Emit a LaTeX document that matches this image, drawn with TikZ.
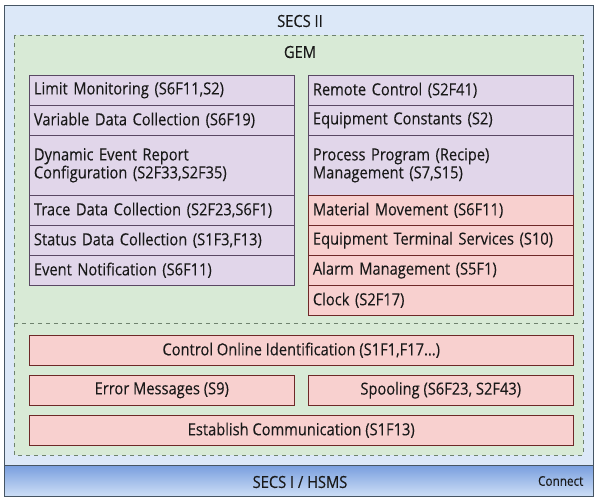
\documentclass[tikz,border=0pt]{standalone}
\usepackage{fontspec}
\setmainfont{Open Sans}[FakeStretch=0.88,FakeBold=0.15]
\usepackage{tikz}
\usetikzlibrary{positioning,calc}

\definecolor{secsfill}{RGB}{220,232,248}
\definecolor{secsline}{RGB}{70,85,100}
\definecolor{gemfill}{RGB}{216,234,214}
\definecolor{gemline}{RGB}{110,130,110}
\definecolor{lavfill}{RGB}{225,214,234}
\definecolor{lavline}{RGB}{90,72,100}
\definecolor{pinkfill}{RGB}{248,208,207}
\definecolor{pinkline}{RGB}{110,40,40}
\definecolor{bartop}{RGB}{120,158,222}
\definecolor{barbot}{RGB}{205,222,246}

\begin{document}
\begin{tikzpicture}[x=0.75pt,y=-0.75pt,
	every node/.style={font=\fontsize{12.5pt}{13.5pt}\selectfont, text=black!90},
	colbox/.style={draw, anchor=north west, inner xsep=3.5pt, inner ysep=0pt,
		text width=191.75pt, align=left, minimum height=22.5pt},
	widebox/.style={draw=pinkline, fill=pinkfill, anchor=north west, inner sep=0pt,
		minimum width=408pt, minimum height=22.5pt},
	halfbox/.style={draw=pinkline, fill=pinkfill, anchor=north west, inner sep=0pt,
		minimum width=198.75pt, minimum height=22.5pt},
	lav/.style={colbox, draw=lavline, fill=lavfill},
	pink/.style={colbox, draw=pinkline, fill=pinkfill}]
	\useasboundingbox (0,0) rectangle (600,501);
	% SECS II frame and GEM area
	\draw[secsline, fill=secsfill] (4,5) rectangle (593,496);
	\draw[gemline, dashed, fill=gemfill] (14,35) rectangle (583,455);
	\draw[gemline, dashed] (14,323) -- (583,323);
	\node (secs) at (300,21) {SECS II};
	\node (gem) at (300,52) {GEM};
	% left column
	\node[lav] (limit) at (29,75) {Limit Monitoring (S6F11,S2)};
	\node[lav] (vardata) at (29,105) {Variable Data Collection (S6F19)};
	\node[lav, minimum height=45pt] (dynevent) at (29,135) {Dynamic Event Report\\Configuration (S2F33,S2F35)};
	\node[lav] (trace) at (29,195) {Trace Data Collection (S2F23,S6F1)};
	\node[lav] (status) at (29,225) {Status Data Collection (S1F3,F13)};
	\node[lav] (event) at (29,255) {Event Notification (S6F11)};
	% right column
	\node[lav] (remote) at (308,75) {Remote Control (S2F41)};
	\node[lav] (eqconst) at (308,105) {Equipment Constants (S2)};
	\node[lav, minimum height=45pt] (recipe) at (308,135) {Process Program (Recipe)\\Management (S7,S15)};
	\node[pink] (material) at (308,195) {Material Movement (S6F11)};
	\node[pink] (terminal) at (308,225) {Equipment Terminal Services (S10)};
	\node[pink] (alarm) at (308,255) {Alarm Management (S5F1)};
	\node[pink] (clock) at (308,285) {Clock (S2F17)};
	% lower part
	\node[widebox] (online) at (29,335) {Control Online Identification (S1F1,F17...)};
	\node[halfbox] (error) at (29,375) {Error Messages (S9)};
	\node[halfbox] (spool) at (308,375) {Spooling (S6F23, S2F43)};
	\node[widebox] (establish) at (29,415) {Establish Communication (S1F13)};
	% SECS I / HSMS bar
	\shade[top color=bartop, bottom color=barbot, draw=secsline] (4,465) rectangle (593,496);
	\node (hsms) at (300,482) {SECS I / HSMS};
	\node[font=\fontsize{10pt}{11pt}\selectfont, anchor=east] (connect) at (588,481) {Connect};
\end{tikzpicture}
\end{document}
